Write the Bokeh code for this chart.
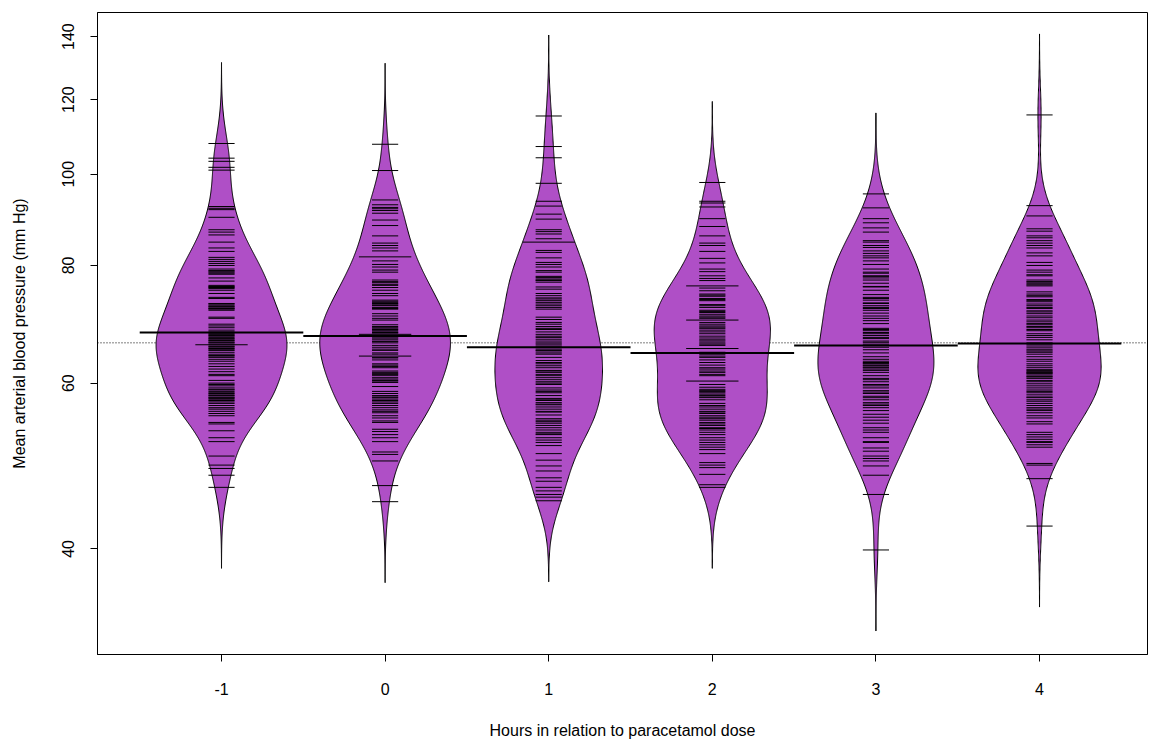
import numpy as np
from bokeh.plotting import figure
from bokeh.models import Range1d, FixedTicker, Span, NumeralTickFormatter
from bokeh.embed import file_html
from bokeh.resources import INLINE

# ---------------- data ----------------
hours = [-1, 0, 1, 2, 3, 4]
hour_labels = ["-1", "0", "1", "2", "3", "4"]
y_ticks = [40, 60, 80, 100, 120, 140]

map_m1 = [107.8, 104.0, 103.2, 101.7, 101.0, 92.4, 92.0, 91.7, 90.0, 87.3, 86.8,
          86.2, 84.7, 83.5, 82.8, 81.6, 81.2, 80.8, 80.4, 80.0, 79.3, 79.0, 78.9, 78.7,
          78.5, 78.3, 77.6, 77.0, 76.2, 76.0, 75.9, 75.8, 75.6, 75.3, 74.7, 74.0, 73.8,
          72.9, 72.8, 72.6, 72.4, 72.3, 72.1, 72.0, 71.9, 71.7, 70.5, 70.3, 69.3, 69.0,
          68.7, 68.3, 68.0, 67.9, 67.7, 67.6, 67.4, 67.3, 67.1, 66.9, 66.8, 66.6, 66.5,
          66.3, 66.2, 66.0, 65.9, 65.9, 65.7, 65.6, 65.4, 65.3, 65.1, 65.0, 64.7, 64.4,
          64.2, 64.1, 63.9, 63.6, 63.3, 62.9, 62.5, 62.1, 61.7, 61.3, 61.1, 60.4, 60.0,
          59.8, 59.6, 59.3, 59.1, 59.0, 58.8, 58.6, 58.5, 58.3, 58.2, 58.0, 57.9, 57.8,
          57.6, 57.5, 57.3, 57.1, 56.8, 56.5, 56.3, 56.0, 55.7, 55.4, 54.5, 54.3, 53.4,
          52.5, 52.0, 50.2, 49.1, 48.7, 47.9, 46.5]
map_0 = [107.6, 100.9, 93.9, 92.8, 92.2, 91.9, 91.5, 90.9, 89.4, 88.2, 86.0, 84.5, 84.0,
         83.5, 82.9, 81.7, 81.7, 80.9, 80.2, 79.7, 79.1, 78.7, 77.2, 76.9, 76.7, 76.4,
         76.2, 75.8, 75.3, 74.7, 74.3, 73.5, 73.3, 73.1, 72.9, 72.8, 72.6, 72.5, 72.2,
         72.0, 71.9, 71.1, 70.7, 70.3, 70.0, 69.2, 68.9, 68.7, 68.5, 68.4, 68.2, 68.0,
         67.9, 67.8, 67.6, 67.6, 67.3, 67.2, 67.0, 66.8, 66.5, 66.4, 66.2, 65.8, 65.5,
         65.2, 65.0, 64.6, 64.4, 64.1, 64.1, 63.9, 63.8, 63.5, 62.9, 62.7, 62.5, 62.3,
         61.8, 61.6, 61.4, 61.3, 61.1, 60.8, 60.6, 60.4, 60.3, 60.1, 59.5, 58.8, 58.5,
         58.2, 58.0, 57.9, 57.7, 57.5, 57.3, 57.1, 56.8, 56.5, 56.2, 56.0, 55.8, 55.4,
         55.1, 54.7, 54.5, 53.6, 53.3, 52.9, 52.5, 52.0, 50.7, 50.4, 49.6, 46.7, 44.9]
map_1 = [115.3, 107.0, 104.1, 97.8, 93.6, 92.5, 90.7, 89.6, 87.3, 86.9, 86.4, 85.4, 84.7,
         84.7, 83.0, 82.6, 81.5, 80.6, 80.2, 79.7, 79.0, 78.7, 77.9, 77.7, 77.4, 77.2,
         77.1, 76.8, 75.9, 75.5, 74.7, 74.3, 73.9, 73.7, 73.4, 73.1, 72.8, 72.5, 72.2,
         71.9, 70.5, 70.1, 69.6, 69.3, 68.9, 68.6, 68.4, 68.0, 67.6, 67.3,
         67.1, 66.8, 66.5, 66.2, 66.0, 65.7, 65.5, 65.2, 65.0, 64.9, 64.6, 64.4,
         63.9, 63.4, 63.1, 62.9, 62.6, 62.3, 61.9, 61.8, 61.6, 61.3, 61.1,
         60.8, 60.5, 60.2, 60.0, 59.8, 59.3, 59.0, 58.8, 58.6, 58.2,
         57.8, 57.6, 57.5, 57.2, 57.0, 56.9, 56.6, 56.3, 56.0, 55.9, 55.5, 55.0, 54.8,
         54.6, 54.4, 54.1, 53.8, 53.5, 53.2, 53.0, 52.9, 52.5, 52.2, 51.9, 51.5, 50.5,
         49.7, 49.0, 48.4, 47.6, 47.2, 46.5, 46.1, 45.7, 45.4, 45.0]
map_2 = [98.0, 93.6, 93.2, 92.3, 89.7, 88.0, 86.0, 84.5, 84.0, 82.8, 81.4, 80.5, 79.3,
         78.8, 78.0, 77.5, 77.1, 76.1, 76.1, 75.7, 75.2, 74.6, 74.4, 74.2, 73.8, 73.6,
         73.4, 72.7, 72.5, 72.2, 71.7, 71.5, 71.3, 71.0, 70.7, 70.5, 70.3, 70.0, 70.0,
         69.6, 69.3, 69.0, 68.8, 68.6, 68.3, 68.0, 67.7, 67.3, 67.0, 66.7, 66.5, 66.2,
         66.0, 65.8, 65.3, 65.3, 64.7, 64.4, 64.1, 63.9, 63.5, 63.1, 62.7, 62.3, 62.1,
         61.8, 61.6, 61.3, 61.1, 60.3, 60.3, 59.8, 59.4, 59.1, 58.9,
         58.8, 58.6, 58.4, 58.2, 58.0, 57.9, 57.6, 57.1, 56.8, 56.6, 56.3, 56.0, 55.9,
         55.7, 55.4, 55.2, 55.0, 54.8, 54.5, 54.3, 54.1, 53.8, 53.7, 53.5, 53.2, 52.9,
         52.5, 52.2, 51.9, 51.6, 51.3, 51.0, 50.5, 49.4, 49.1, 48.8, 48.0, 46.8, 46.5]
map_3 = [95.3, 92.1, 89.7, 88.8, 87.7, 86.8, 85.0, 84.7, 84.0, 83.6, 82.9, 82.4, 81.9,
         81.5, 80.9, 80.2, 79.3, 78.7, 78.5, 78.0, 77.9, 77.6, 77.2, 76.6, 76.0, 75.9,
         75.3, 74.5, 74.0, 73.8, 73.5, 73.0, 72.9, 72.5, 72.2, 72.0, 71.7, 71.2, 70.7,
         70.3, 69.9, 69.4, 68.6, 68.4, 68.2, 67.9, 67.7, 67.4, 67.1, 66.9, 66.5, 66.3,
         66.0, 65.5, 65.1, 64.6, 64.0, 63.6, 63.3, 63.1, 63.0, 62.9, 62.7, 62.6,
         62.4, 62.3, 62.1, 61.9, 61.6, 61.1, 60.7, 60.5, 60.2, 59.8, 59.6, 59.3,
         58.9, 58.7, 58.5, 58.1, 57.9, 57.6, 57.2, 57.0, 56.8, 56.5, 56.1, 55.6, 55.2,
         54.8, 54.4, 53.8, 53.5, 53.2, 52.5, 52.0, 51.9, 51.2, 50.8, 50.2, 49.9, 49.6,
         49.0, 47.9, 45.7, 39.9]
map_4 = [115.6, 92.6, 90.3, 87.5, 87.0, 86.0, 85.6, 85.0, 84.5, 84.0, 83.5, 82.5, 81.9,
         80.6, 80.0, 79.1, 78.7, 78.2, 78.0, 77.2, 76.9, 76.8, 76.5, 76.3, 76.1, 75.0,
         74.6, 74.3, 74.1, 73.6, 73.4, 73.2, 72.8, 72.5, 72.2, 72.0, 71.6, 71.4, 71.1,
         70.7, 70.4, 70.0, 69.7, 69.4, 69.2, 68.9, 68.7, 68.4, 68.2, 67.7, 67.4, 67.1,
         66.7, 66.2, 66.0, 65.7, 65.4, 65.1, 64.9, 64.7, 64.4, 64.0, 63.6, 63.3, 62.9,
         62.6, 62.3, 62.0, 61.9, 61.7, 61.6, 61.5, 61.4, 61.2, 61.0, 60.9, 60.7, 60.4,
         60.2, 59.9, 59.6, 59.3, 59.0, 58.8, 58.6, 58.3, 58.0, 57.9, 57.6, 57.4, 57.1,
         56.8, 56.5, 56.3, 56.1, 55.8, 55.4, 55.1, 54.6, 54.3, 53.2, 52.9, 52.6, 52.3,
         52.0, 51.9, 51.6, 51.3, 49.3, 49.1, 47.5, 42.3]

groups = [map_m1, map_0, map_1, map_2, map_3, map_4]

# ---------------- beanplot settings ----------------
BW = 0.066        # kernel bandwidth on log scale
CUT = 3
MAXWIDTH = 0.8
LL = 0.16
MAXSTRIP = 0.96
FILL = "#AF4FC6"
FONT = "Liberation Sans"

dens = []
for vals in groups:
    lv = np.log(np.asarray(vals, dtype=float))
    grid = np.linspace(lv.min() - CUT * BW, lv.max() + CUT * BW, 512)
    d = np.exp(-0.5 * ((grid[:, None] - lv[None, :]) / BW) ** 2).sum(axis=1)
    d /= len(lv) * BW * np.sqrt(2 * np.pi)
    dens.append((grid, d))
wd = MAXWIDTH / max(d.max() for _, d in dens)

all_log = np.log(np.concatenate([np.asarray(g, float) for g in groups]))
overall = float(np.exp(all_log.mean()))

p = figure(width=1155, height=743, x_range=Range1d(-1.758, 4.660),
           y_range=Range1d(30.9, 148.5), y_axis_type="log",
           output_backend="svg", toolbar_location=None,
           min_border_left=97, min_border_right=8, min_border_top=12,
           min_border_bottom=89)
p.background_fill_color = "white"
p.border_fill_color = "white"
p.outline_line_color = "black"
p.outline_line_width = 1
p.outline_line_alpha = 1
p.xgrid.visible = False
p.ygrid.visible = False

p.add_layout(Span(location=overall, dimension="width", line_color="black",
                  line_width=1, line_dash="1 2", level="underlay"))

for xc, vals, (grid, d) in zip(hours, groups, dens):
    hw = d * wd / 2
    ys = np.exp(grid)
    xs = np.concatenate([xc - hw, (xc + hw)[::-1]])
    yy = np.concatenate([ys, ys[::-1]])
    p.patch(xs, yy, fill_color=FILL, line_color="black", line_width=1)

for xc, vals in zip(hours, groups):
    uniq, counts = np.unique(np.asarray(vals, float), return_counts=True)
    lens = np.minimum(LL * counts, MAXSTRIP)
    p.segment(x0=xc - lens / 2, x1=xc + lens / 2, y0=uniq, y1=uniq,
              line_color="black", line_width=1)

for xc, vals in zip(hours, groups):
    m = float(np.exp(np.log(np.asarray(vals, float)).mean()))
    p.segment(x0=[xc - 0.5], x1=[xc + 0.5], y0=[m], y1=[m],
              line_color="black", line_width=2)

for ax in (p.xaxis[0], p.yaxis[0]):
    ax.axis_line_color = "black"
    ax.major_tick_line_color = "black"
    ax.major_tick_in = 0
    ax.major_tick_out = 7
    ax.minor_tick_line_color = None
    ax.major_label_text_font = FONT
    ax.major_label_text_font_size = "16px"
    ax.major_label_text_color = "black"
    ax.axis_label_text_font = FONT
    ax.axis_label_text_font_size = "16px"
    ax.axis_label_text_font_style = "normal"
    ax.axis_label_text_color = "black"

p.xaxis.ticker = FixedTicker(ticks=hours)
p.xaxis.major_label_overrides = {h: lab for h, lab in zip(hours, hour_labels)}
p.xaxis.axis_label = "Hours in relation to paracetamol dose"
p.xaxis.major_label_standoff = 21
p.xaxis.axis_label_standoff = 24

p.yaxis.ticker = FixedTicker(ticks=y_ticks)
p.yaxis.formatter = NumeralTickFormatter(format="0")
p.yaxis.major_label_orientation = "vertical"
p.yaxis.axis_label = "Mean arterial blood pressure (mm Hg)"
p.yaxis.major_label_standoff = 16
p.yaxis.axis_label_standoff = 32

open("out.html", "w").write(file_html(p, INLINE))
